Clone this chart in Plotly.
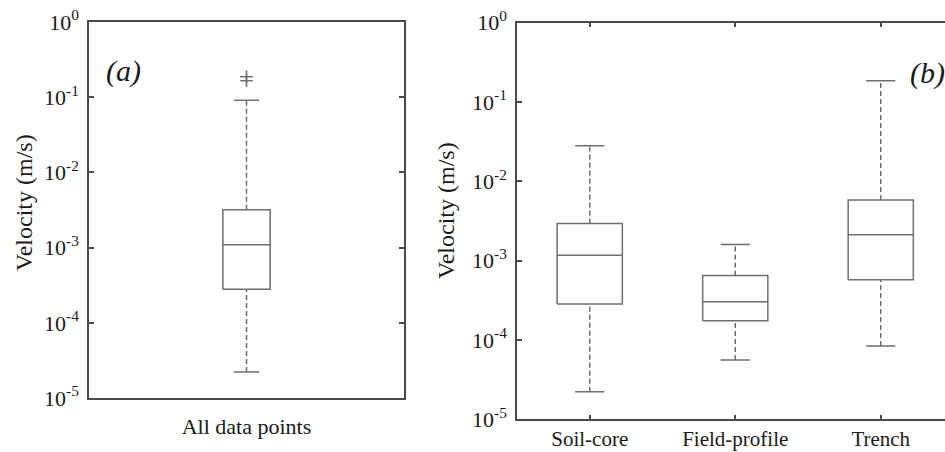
import plotly.graph_objects as go

# ---------------- data ----------------
cat_a = ["All data points"]
q1_a = [2.79e-4]
med_a = [1.09e-3]
q3_a = [3.19e-3]
lo_a = [2.22e-5]
hi_a = [0.091]
out_x_a = [1, 1]
out_y_a = [0.187, 0.166]

cat_b = ["Soil-core", "Field-profile", "Trench"]
q1_b = [2.84e-4, 1.75e-4, 5.74e-4]
med_b = [1.17e-3, 3.03e-4, 2.12e-3]
q3_b = [2.95e-3, 6.52e-4, 5.81e-3]
lo_b = [2.22e-5, 5.58e-5, 8.38e-5]
hi_b = [0.0281, 1.60e-3, 0.186]

ytickvals = [1e-5, 1e-4, 1e-3, 1e-2, 1e-1, 1e0]
yticktext = ["10<sup>-5</sup>", "10<sup>-4</sup>", "10<sup>-3</sup>",
             "10<sup>-2</sup>", "10<sup>-1</sup>", "10<sup>0</sup>"]

# ---------------- style ----------------
W, H = 945, 452
FONT = "Liberation Serif, Times New Roman, serif"
FRAME = "#4a4a4a"
BOXC = "#6e6e6e"
TXT = "#1a1a1a"


def box_paths(cats, q1, med, q3, lo, hi, hw, cw):
    sx, sy, dx, dy = [], [], [], []
    for i in range(len(cats)):
        c = i + 1
        sx += [c - hw, c + hw, c + hw, c - hw, c - hw, None]
        sy += [q1[i], q1[i], q3[i], q3[i], q1[i], None]
        sx += [c - hw, c + hw, None]
        sy += [med[i], med[i], None]
        sx += [c - cw, c + cw, None, c - cw, c + cw, None]
        sy += [lo[i], lo[i], None, hi[i], hi[i], None]
        dx += [c, c, None, c, c, None]
        dy += [q3[i], hi[i], None, lo[i], q1[i], None]
    return sx, sy, dx, dy


fig = go.Figure()

sx, sy, dx, dy = box_paths(cat_a, q1_a, med_a, q3_a, lo_a, hi_a, 0.075, 0.04)
fig.add_trace(go.Scatter(x=dx, y=dy, mode="lines", xaxis="x", yaxis="y",
                         line=dict(color=BOXC, width=1.5, dash="5px,3px"),
                         hoverinfo="skip", showlegend=False))
fig.add_trace(go.Scatter(x=sx, y=sy, mode="lines", xaxis="x", yaxis="y",
                         line=dict(color=BOXC, width=1.5),
                         hoverinfo="skip", showlegend=False))
fig.add_trace(go.Scatter(x=out_x_a, y=out_y_a, mode="markers", xaxis="x", yaxis="y",
                         marker=dict(symbol="cross-thin", size=9,
                                     line=dict(color=BOXC, width=1.5)),
                         hoverinfo="skip", showlegend=False))

sx, sy, dx, dy = box_paths(cat_b, q1_b, med_b, q3_b, lo_b, hi_b, 0.224, 0.1)
fig.add_trace(go.Scatter(x=dx, y=dy, mode="lines", xaxis="x2", yaxis="y2",
                         line=dict(color=BOXC, width=1.5, dash="5px,3px"),
                         hoverinfo="skip", showlegend=False))
fig.add_trace(go.Scatter(x=sx, y=sy, mode="lines", xaxis="x2", yaxis="y2",
                         line=dict(color=BOXC, width=1.5),
                         hoverinfo="skip", showlegend=False))

tickfont = dict(family=FONT, size=22, color=TXT)
common = dict(showgrid=False, zeroline=False, automargin=False,
              linecolor=FRAME, linewidth=1.5, showline=True)

fig.update_layout(
    template="none",
    width=W, height=H,
    margin=dict(l=0, r=0, t=0, b=0, pad=0),
    paper_bgcolor="white", plot_bgcolor="white",
    xaxis=dict(domain=[89 / W, 404 / W], range=[0.5, 1.5],
               tickvals=[1], ticktext=cat_a, ticks="", mirror=True,
               tickfont=tickfont, ticklabelstandoff=8, anchor="y", **common),
    yaxis=dict(domain=[(H - 398) / H, (H - 22) / H], type="log", range=[-5, 0],
               tickvals=ytickvals, ticktext=yticktext,
               ticks="inside", ticklen=5, tickcolor=FRAME, tickwidth=1.5,
               mirror="allticks", tickfont=tickfont, ticklabelstandoff=4,
               anchor="x", **common),
    xaxis2=dict(domain=[517 / W, 1.0], range=[0.5, 0.5 + (945 - 517) / 145.5],
                tickvals=[1, 2, 3], ticktext=cat_b,
                ticks="inside", ticklen=5, tickcolor=FRAME, tickwidth=1.5,
                mirror="allticks", tickfont=dict(family=FONT, size=21, color=TXT),
                ticklabelstandoff=0, anchor="y2", **common),
    yaxis2=dict(domain=[(H - 419.3) / H, (H - 22.7) / H], type="log", range=[-5, 0],
                tickvals=ytickvals, ticktext=yticktext,
                ticks="inside", ticklen=5, tickcolor=FRAME, tickwidth=1.5,
                mirror=False, tickfont=tickfont, ticklabelstandoff=4,
                anchor="x2", **common),
    annotations=[
        dict(text="Velocity (m/s)", xref="paper", yref="paper",
             x=24 / W, y=(H - 203) / H, textangle=-90, showarrow=False,
             font=dict(family=FONT, size=24, color=TXT),
             xanchor="center", yanchor="middle"),
        dict(text="Velocity (m/s)", xref="paper", yref="paper",
             x=446 / W, y=(H - 211) / H, textangle=-90, showarrow=False,
             font=dict(family=FONT, size=24, color=TXT),
             xanchor="center", yanchor="middle"),
        dict(text="<i>(a)</i>", xref="paper", yref="paper",
             x=124 / W, y=(H - 71) / H, showarrow=False,
             font=dict(family=FONT, size=30, color=TXT),
             xanchor="center", yanchor="middle"),
        dict(text="<i>(b)</i>", xref="paper", yref="paper",
             x=927 / W, y=(H - 73) / H, showarrow=False,
             font=dict(family=FONT, size=30, color=TXT),
             xanchor="center", yanchor="middle"),
    ],
)

fig.write_html("out.html")
